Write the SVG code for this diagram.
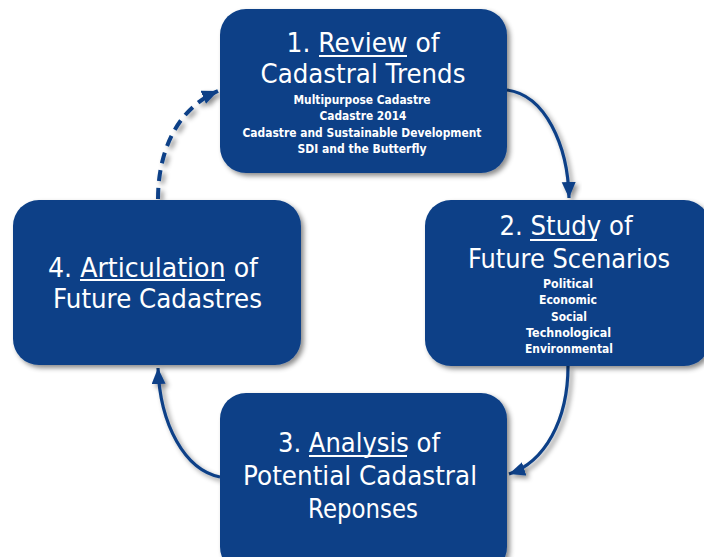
<svg xmlns="http://www.w3.org/2000/svg" width="704" height="557" viewBox="0 0 704 557">
<defs>
<filter id="sh" x="-10%" y="-10%" width="130%" height="130%">
<feDropShadow dx="3" dy="3" stdDeviation="2.5" flood-color="#000" flood-opacity="0.45"/>
</filter>
<marker id="ah" markerUnits="userSpaceOnUse" markerWidth="18" markerHeight="16" refX="16" refY="7" orient="auto">
<path d="M0,0 L16,7 L0,14 Z" fill="#0a3f87"/>
</marker>
<style>
.box{fill:#0a3f87;filter:url(#sh)}
.t{font-family:"DejaVu Sans","Liberation Sans",sans-serif;fill:#fff;text-anchor:middle}
.big{font-size:27px}
.sm{font-size:11.5px;font-weight:bold}
.u{stroke:#fff;stroke-width:1.8}
.c{fill:none;stroke:#0a3f87;stroke-width:3.2;filter:url(#sh)}
.d{stroke-width:4;stroke-dasharray:11 7}
</style>
</defs>
<g id="connectors">
<path class="c" d="M507,90 C545,95 568,145 569,198" marker-end="url(#ah)"/>
<path class="c" d="M568,366 C568,420 545,462 509,474" marker-end="url(#ah)"/>
<path class="c" d="M220,477 C185,470 160,425 158,368" marker-end="url(#ah)"/>
<path class="c d" d="M158,199 C158,150 178,108 218,91" marker-end="url(#ah)"/>
</g>
<g id="n1">
<rect class="box" x="220" y="9" width="287" height="164" rx="26"/>
<text class="t big" x="363" y="52" textLength="153" lengthAdjust="spacingAndGlyphs">1. Review of</text>
<line class="u" x1="319" y1="56" x2="407" y2="56"/>
<text class="t big" x="363" y="83" textLength="205" lengthAdjust="spacingAndGlyphs">Cadastral Trends</text>
<text class="t sm" x="362" y="104" textLength="137" lengthAdjust="spacingAndGlyphs">Multipurpose Cadastre</text>
<text class="t sm" x="363" y="120" textLength="87" lengthAdjust="spacingAndGlyphs">Cadastre 2014</text>
<text class="t sm" x="362" y="137" textLength="239" lengthAdjust="spacingAndGlyphs">Cadastre and Sustainable Development</text>
<text class="t sm" x="362" y="153" textLength="129" lengthAdjust="spacingAndGlyphs">SDI and the Butterfly</text>
</g>
<g id="n2">
<rect class="box" x="425" y="200" width="285" height="166" rx="26"/>
<text class="t big" x="566" y="235" textLength="133" lengthAdjust="spacingAndGlyphs">2. Study of</text>
<line class="u" x1="530" y1="240" x2="597" y2="240"/>
<text class="t big" x="569" y="268" textLength="202" lengthAdjust="spacingAndGlyphs">Future Scenarios</text>
<text class="t sm" x="568" y="288" textLength="50" lengthAdjust="spacingAndGlyphs">Political</text>
<text class="t sm" x="568" y="304" textLength="58" lengthAdjust="spacingAndGlyphs">Economic</text>
<text class="t sm" x="569" y="321" textLength="36" lengthAdjust="spacingAndGlyphs">Social</text>
<text class="t sm" x="568.5" y="337" textLength="85" lengthAdjust="spacingAndGlyphs">Technological</text>
<text class="t sm" x="569" y="353" textLength="88" lengthAdjust="spacingAndGlyphs">Environmental</text>
</g>
<g id="n3">
<rect class="box" x="220" y="393" width="287" height="180" rx="26"/>
<text class="t big" x="359" y="452" textLength="162" lengthAdjust="spacingAndGlyphs">3. Analysis of</text>
<line class="u" x1="309" y1="456" x2="407" y2="456"/>
<text class="t big" x="360" y="485" textLength="234" lengthAdjust="spacingAndGlyphs">Potential Cadastral</text>
<text class="t big" x="363" y="518" textLength="110" lengthAdjust="spacingAndGlyphs">Reponses</text>
</g>
<g id="n4">
<rect class="box" x="13" y="200" width="288" height="165" rx="26"/>
<text class="t big" x="153" y="277" textLength="210" lengthAdjust="spacingAndGlyphs">4. Articulation of</text>
<line class="u" x1="80" y1="280" x2="225" y2="280"/>
<text class="t big" x="157.5" y="308" textLength="209" lengthAdjust="spacingAndGlyphs">Future Cadastres</text>
</g>
</svg>
